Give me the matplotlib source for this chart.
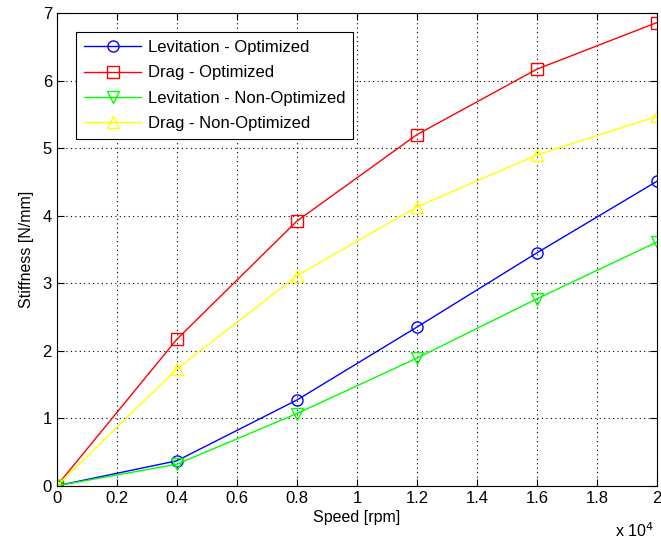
import matplotlib
matplotlib.use("Agg")
import matplotlib.pyplot as plt
from matplotlib.ticker import FuncFormatter

plt.rcParams['font.family'] = ['Liberation Sans', 'DejaVu Sans']

# vitesse en rpm
speed = [0, 4000, 8000, 12000, 16000, 20000]
lev_opt = [0, 0.37, 1.27, 2.35, 3.45, 4.51]
drag_opt = [0, 2.17, 3.92, 5.20, 6.17, 6.86]
lev_nonopt = [0, 0.32, 1.07, 1.89, 2.77, 3.61]
drag_nonopt = [0, 1.73, 3.11, 4.13, 4.90, 5.47]
labels = ["Levitation - Optimized", "Drag - Optimized",
          "Levitation - Non-Optimized", "Drag - Non-Optimized"]

fig = plt.figure(figsize=(6.61, 5.44), dpi=100)
ax = fig.add_axes([0.086, 0.107, 0.908, 0.869])

ax.plot(speed, lev_opt, '-o', color='#0000ff', mfc='none', ms=8, lw=1, label=labels[0])
ax.plot(speed, drag_opt, '-s', color='#ff0000', mfc='none', ms=8, lw=1, label=labels[1])
ax.plot(speed, lev_nonopt, '-v', color='#00ff00', mfc='none', ms=8, lw=1, label=labels[2])
ax.plot(speed, drag_nonopt, '-^', color='#ffff00', mfc='none', ms=8, lw=1, label=labels[3])

ax.set_xlim(0, 20000)
ax.set_ylim(0, 7)
ax.set_xticks([i * 2000 for i in range(11)])
ax.set_yticks(range(8))
ax.xaxis.set_major_formatter(FuncFormatter(lambda v, p: ('%g' % (v / 1e4))))
ax.grid(True, color='black', linestyle=(0, (1, 3)), linewidth=0.8)
ax.tick_params(direction='in', top=True, right=True, labelsize=12, length=5)
for s in ax.spines.values():
    s.set_linewidth(0.8)

ax.set_xlabel("Speed [rpm]", fontsize=11.5, labelpad=3)
ax.set_ylabel("Stiffness [N/mm]", fontsize=11.5, labelpad=6)
fig.text(0.93, 0.008, r"x 10$^4$", fontsize=11.5, ha='left', va='bottom')

leg = ax.legend(loc='upper left', bbox_to_anchor=(0.018, 0.978), fontsize=12,
                fancybox=False, edgecolor='black', framealpha=1,
                handlelength=3.4, labelspacing=0.62, borderpad=0.5,
                handletextpad=0.4)
leg.get_frame().set_linewidth(0.8)

plt.savefig("out.png")
plt.close()
